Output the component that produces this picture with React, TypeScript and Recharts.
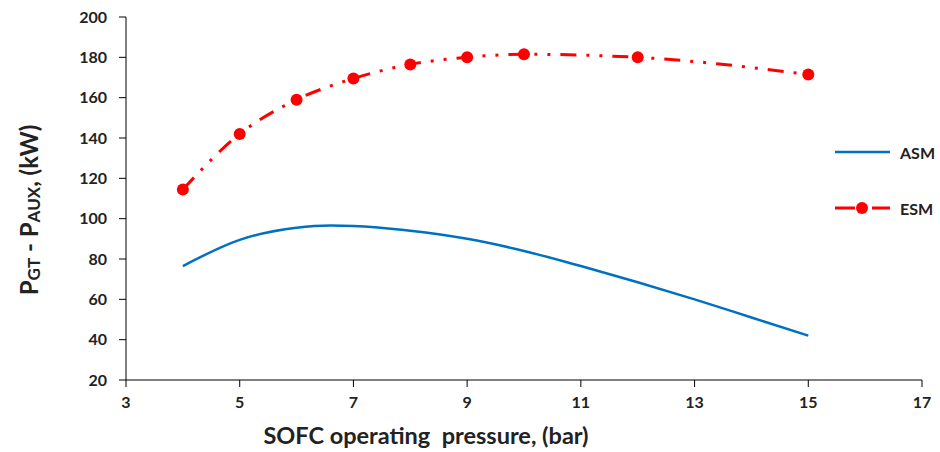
import React from "react";
import { LineChart, Line, XAxis, YAxis } from "recharts";

// SOFC operating pressure (bar)
const asmPressure = [4, 5, 6, 6.6, 7, 8, 9, 10, 11, 12, 13, 14, 15];
const asmPower = [76.5, 89.5, 95.5, 96.6, 96.4, 94, 90, 84, 76.5, 68.5, 60, 51, 42];

const esmPressure = [4, 5, 6, 7, 8, 9, 10, 12, 15];
const esmPower = [114.5, 142, 159, 169.5, 176.5, 180, 181.5, 180, 171.5];

const xTicks = [3, 5, 7, 9, 11, 13, 15, 17];
const yTicks = [20, 40, 60, 80, 100, 120, 140, 160, 180, 200];

const asmData = asmPressure.map((x, i) => ({ x, y: asmPower[i] }));
const esmData = esmPressure.map((x, i) => ({ x, y: esmPower[i] }));

const FONT = "Lato, 'Open Sans', sans-serif";
const BLUE = "#0070C0";
const RED = "#FF0000";
const ESM_DASH = "16 10 3 10 3 10";

const YLabel = () => {
  const cx = 28;
  const cy = 210;
  return (
    <text
      x={cx}
      y={cy}
      transform={`rotate(-90, ${cx}, ${cy})`}
      textAnchor="middle"
      dominantBaseline="central"
      fontFamily={FONT}
      fontWeight={700}
      fontSize={24}
      fill="#222"
    >
      P
      <tspan fontSize={17} dy={5}>GT</tspan>
      <tspan dy={-5}> - P</tspan>
      <tspan fontSize={17} dy={5}>AUX</tspan>
      <tspan dy={-5}>, (kW)</tspan>
    </text>
  );
};

const LegendBox = () => (
  <svg width={108} height={90}>
    <line x1={3} y1={12} x2={58} y2={12} stroke={BLUE} strokeWidth={2.5} />
    <text x={68} y={12} dominantBaseline="central" fontFamily={FONT} fontWeight={700} fontSize={16} fill="#222">
      ASM
    </text>
    <line x1={3} y1={68} x2={58} y2={68} stroke={RED} strokeWidth={3} strokeDasharray="20 7 3 7 20" />
    <circle cx={30} cy={68} r={6} fill={RED} />
    <text x={68} y={68} dominantBaseline="central" fontFamily={FONT} fontWeight={700} fontSize={16} fill="#222">
      ESM
    </text>
  </svg>
);

export default function App() {
  const tickStyle = { fontFamily: FONT, fontWeight: 700, fontSize: 16, fill: "#222" };
  return (
    <div style={{ position: "absolute", left: 0, top: 0, width: 940, height: 452, background: "#fff" }}>
      <LineChart width={940} height={452} margin={{ top: 17, right: 18, bottom: 42, left: 46 }}>
        <XAxis
          type="number"
          dataKey="x"
          domain={[3, 17]}
          ticks={xTicks}
          interval={0}
          allowDuplicatedCategory={false}
          stroke="#000"
          tickSize={7}
          tickMargin={10}
          tick={tickStyle}
          label={{
            value: "SOFC operating\u00a0 pressure, (bar)",
            position: "insideBottom",
            offset: -34,
            dx: -98,
            style: { fontFamily: FONT, fontWeight: 700, fontSize: 23.5, fill: "#222" },
          }}
        />
        <YAxis
          type="number"
          dataKey="y"
          width={80}
          domain={[20, 200]}
          ticks={yTicks}
          interval={0}
          stroke="#000"
          tickSize={7}
          tickMargin={12}
          tick={tickStyle}
          label={<YLabel />}
        />
        <Line
          data={asmData}
          dataKey="y"
          type="monotone"
          stroke={BLUE}
          strokeWidth={2.5}
          dot={false}
          activeDot={false}
          isAnimationActive={false}
        />
        <Line
          data={esmData}
          dataKey="y"
          type="monotone"
          stroke={RED}
          strokeWidth={3}
          strokeDasharray={ESM_DASH}
          dot={{ r: 6, fill: RED, stroke: "none" }}
          activeDot={false}
          isAnimationActive={false}
        />
      </LineChart>
      <div style={{ position: "absolute", left: 832, top: 140 }}>
        <LegendBox />
      </div>
    </div>
  );
}
